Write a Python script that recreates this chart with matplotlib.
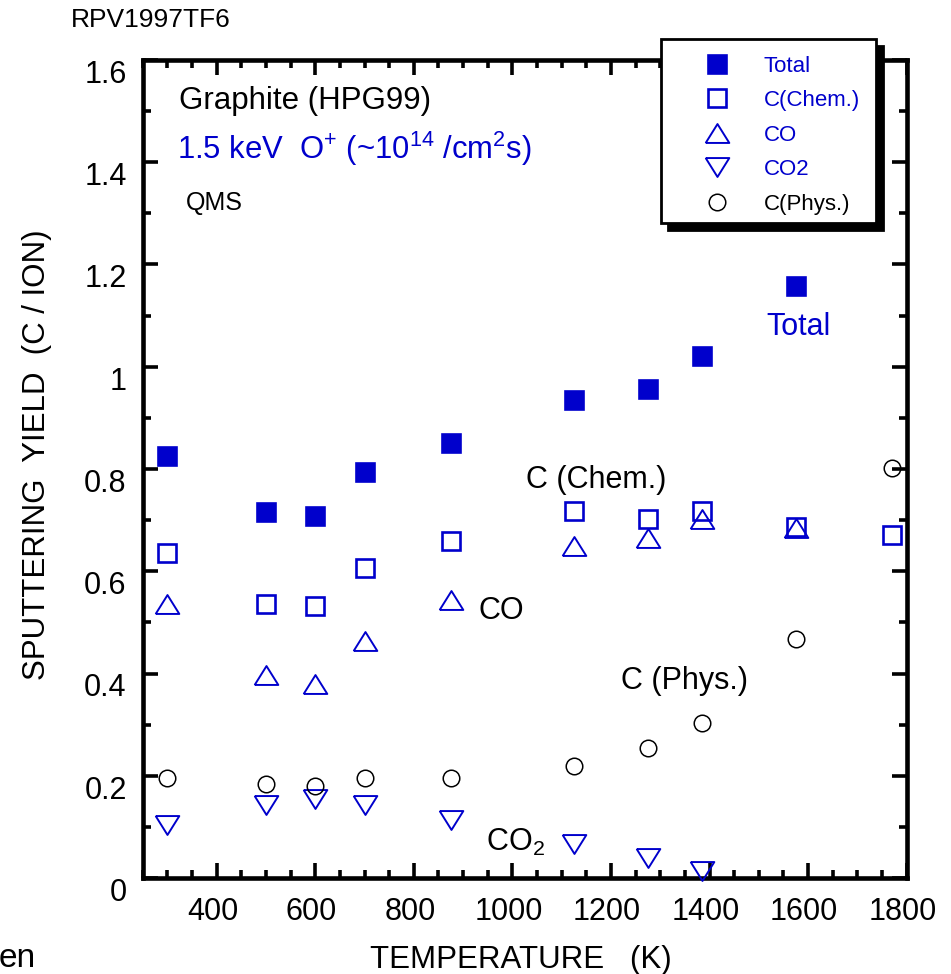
import numpy as np
import matplotlib
matplotlib.use('Agg')
import matplotlib.pyplot as plt
from matplotlib.patches import Rectangle
from matplotlib.ticker import MultipleLocator, FuncFormatter
from matplotlib.transforms import ScaledTranslation


#temperature (K)
temp = np.array([300, 500, 600, 700, 875, 1125, 1275, 1385, 1575, 1770])

#sputtering yields (C / ion)
total = np.array([0.825, 0.716, 0.708, 0.794, 0.851, 0.935, 0.956, 1.021, 1.157])
chem = np.array([0.635, 0.536, 0.532, 0.607, 0.659, 0.718, 0.702, 0.718, 0.687, 0.670])
co = np.array([0.536, 0.397, 0.380, 0.463, 0.543, 0.650, 0.666, 0.702, 0.685])
co2 = np.array([0.104, 0.142, 0.154, 0.142, 0.114, 0.067, 0.040, 0.014])
phys = np.array([0.195, 0.184, 0.180, 0.195, 0.195, 0.219, 0.254, 0.303, 0.467, 0.802])

labels = ['Total', 'C(Chem.)', 'CO', 'CO2', 'C(Phys.)']
xticks = np.arange(400, 1801, 200)
yticks = np.arange(0, 1.61, 0.2)

plt.rcParams['font.family'] = ['Liberation Sans', 'DejaVu Sans']
plt.rcParams['mathtext.default'] = 'regular'

W, H = 951, 974
fig = plt.figure(figsize=(W / 100, H / 100), dpi=100)


def px(x, y):
    # figure pixel -> figure fraction
    return x / W, 1 - y / H


ax = fig.add_axes([142.7 / W, 1 - 878 / H, (906.7 - 142.7) / W, (878 - 60) / H])
blue = '#0000cc'

# flattened triangles
tri_up = [(-1, -0.8), (1, -0.8), (0, 0.8), (-1, -0.8)]
tri_dn = [(-1, 0.8), (1, 0.8), (0, -0.8), (-1, 0.8)]

h1, = ax.plot(temp[:len(total)], total, ls='none', marker='s', ms=13.2, mfc=blue, mec=blue, mew=1.9,
              clip_on=False, zorder=5)
h2, = ax.plot(temp[:len(chem)], chem, ls='none', marker='s', ms=13.2, mfc='none', mec=blue, mew=1.9,
              clip_on=False, zorder=5)
h3, = ax.plot(temp[:len(co)], co, ls='none', marker=tri_up, ms=17, mfc='none', mec=blue, mew=1.4,
              clip_on=False, zorder=5)
h4, = ax.plot(temp[:len(co2)], co2, ls='none', marker=tri_dn, ms=17, mfc='none', mec=blue, mew=1.4,
              clip_on=False, zorder=5)
h5, = ax.plot(temp[:len(phys)], phys, ls='none', marker='o', ms=11.9, mfc='none', mec='black', mew=1.1,
              clip_on=False, zorder=5)

ax.set_xlim(250, 1800)
ax.set_ylim(0, 1.6)
ax.set_xticks(xticks)
ax.set_yticks(yticks)
ax.xaxis.set_minor_locator(MultipleLocator(50))
ax.yaxis.set_minor_locator(MultipleLocator(0.1))
ax.yaxis.set_major_formatter(FuncFormatter(lambda v, p: '%g' % round(v, 2)))

for s in ax.spines.values():
    s.set_linewidth(3.3)
ax.tick_params(which='both', direction='in', top=True, right=True, width=2.6)
ax.tick_params(which='major', length=11)
ax.tick_params(which='minor', length=5.8)
ax.tick_params(axis='x', labelsize=22, pad=14)
ax.tick_params(axis='y', labelsize=22, pad=11.5)

for lab in ax.get_yticklabels():
    lab.set_va('top')
for lab in ax.get_xticklabels():
    lab.set_transform(lab.get_transform() + ScaledTranslation(-4 / 100, 0, fig.dpi_scale_trans))

# axis titles
fig.text(*px(521, 968), 'TEMPERATURE   (K)', fontsize=22.5, ha='center', va='baseline')
fig.text(*px(45, 455), 'SPUTTERING  YIELD  (C / ION)', fontsize=22.5, rotation=90,
         rotation_mode='anchor', ha='center', va='baseline')

# annotations
fig.text(*px(70.7, 26.7), 'RPV1997TF6', fontsize=19, va='baseline')
fig.text(*px(179.3, 109), 'Graphite (HPG99)', fontsize=22.5, va='baseline')
fig.text(*px(176.7, 159), r'1.5 keV  O$^{+}$ (~10$^{14}$ /cm$^{2}$s)', fontsize=22.3,
         color=blue, va='baseline')
fig.text(*px(186, 210), 'QMS', fontsize=18, va='baseline')
fig.text(*px(766.7, 335), 'Total', fontsize=22, color=blue, va='baseline')
fig.text(*px(526, 488), 'C (Chem.)', fontsize=22, va='baseline')
fig.text(*px(478, 619), 'CO', fontsize=22, va='baseline')
fig.text(*px(621, 689), 'C (Phys.)', fontsize=22, va='baseline')
fig.text(*px(486, 851), r'CO$_{2}$', fontsize=22, va='baseline')
fig.text(*px(-1, 967), 'en', fontsize=24, va='baseline')

# legend box with hard shadow
x0, y0, x1, y1 = 661, 39, 876, 223
fig.add_artist(Rectangle(px(x0 + 7, y1 + 7), (x1 - x0) / W, (y1 - y0) / H,
                         transform=fig.transFigure, fc='black', ec='black', lw=2, zorder=6))
fig.add_artist(Rectangle(px(x0, y1), (x1 - x0) / W, (y1 - y0) / H,
                         transform=fig.transFigure, fc='white', ec='black', lw=2, zorder=7))
leg = fig.legend([h1, h2, h3, h4, h5], labels, loc='upper left', bbox_to_anchor=px(694.8, 55.5),
                 frameon=False, fontsize=16, handlelength=2.0, handletextpad=1.1,
                 labelspacing=0.61, borderpad=0, borderaxespad=0, numpoints=1,
                 labelcolor='markeredgecolor')
leg.set_zorder(8)

fig.savefig('out.png', dpi=100)
